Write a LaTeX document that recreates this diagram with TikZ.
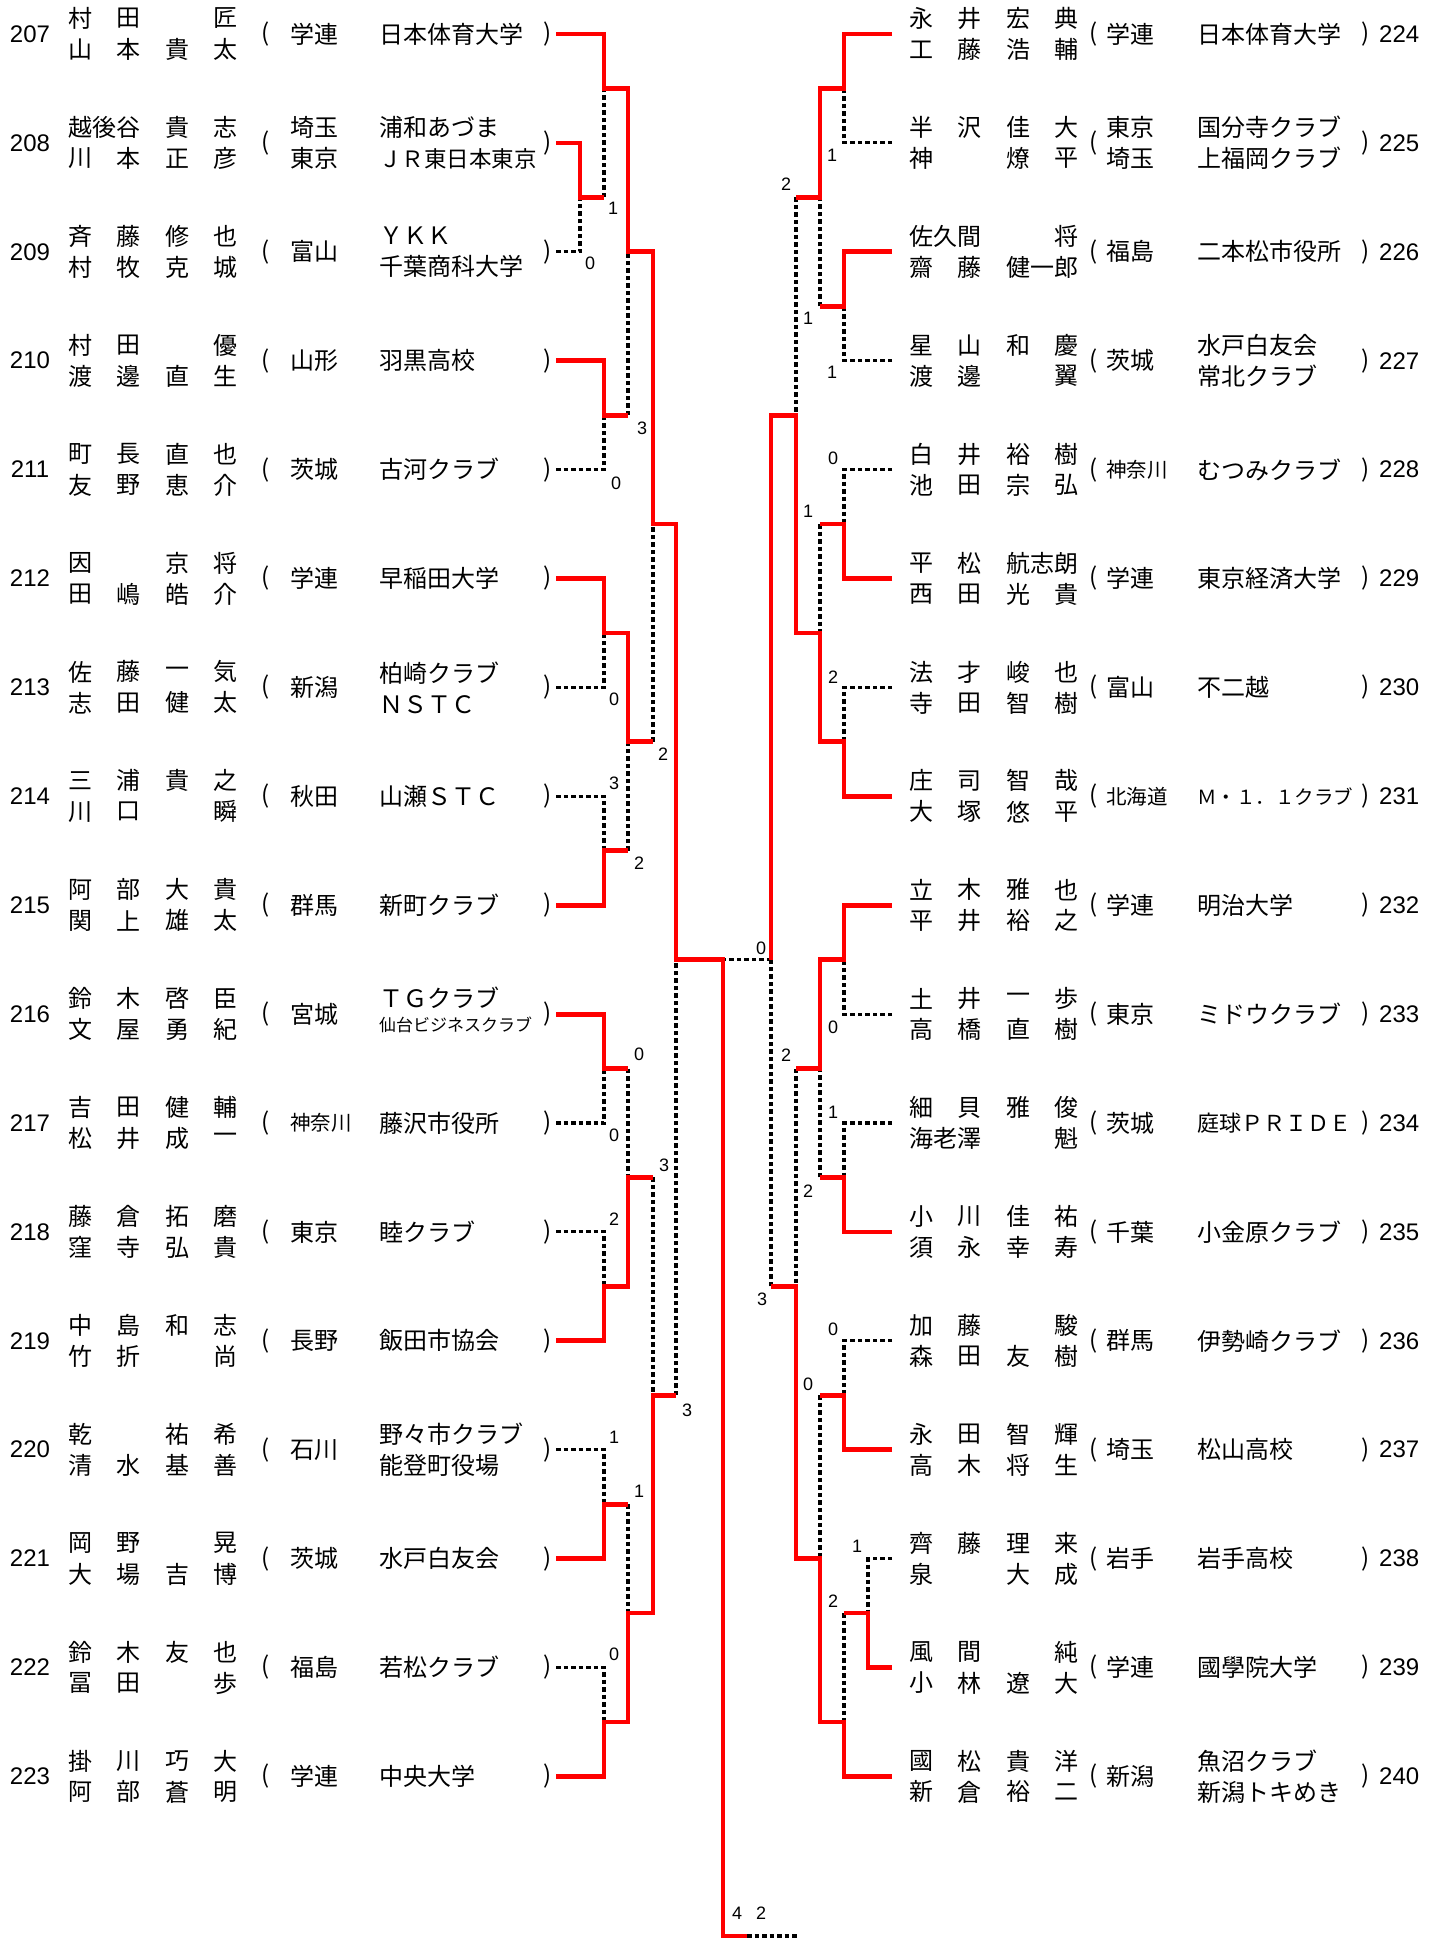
\documentclass[tikz,border=0pt]{standalone}
\usepackage{fontspec}
\setmainfont{Noto Sans CJK JP}
\newfontfamily\numfont{Liberation Sans}
\newcommand\ry[1]{34+108.9*#1}
\newcommand\entL[6]{%
  \coordinate (s#2) at (556,{\ry{#1}});
  \node[num] (no#2) at (30,{\ry{#1}}) {#2};
  \foreach \c [count=\k] in {#3} \node[nm] (a#2-\k) at ({19.5+48.5*\k},{\ry{#1}-15.5}) {\c};
  \foreach \c [count=\k] in {#4} \node[nm] (b#2-\k) at ({19.5+48.5*\k},{\ry{#1}+15.5}) {\c};
  \node[jp] (lp#2) at (266,{\ry{#1}}) {(};
  \node[jp,anchor=west,align=left] (pf#2) at (290,{\ry{#1}}) {#5};
  \node[jp,anchor=west,align=left] (cl#2) at (379,{\ry{#1}}) {#6};
  \node[jp] (rp#2) at (548,{\ry{#1}}) {)};
}
\newcommand\entR[6]{%
  \coordinate (s#2) at (892,{\ry{#1}});
  \node[num,anchor=west] (no#2) at (1379,{\ry{#1}}) {#2};
  \foreach \c [count=\k] in {#3} \node[nm] (a#2-\k) at ({860.5+48.5*\k},{\ry{#1}-15.5}) {\c};
  \foreach \c [count=\k] in {#4} \node[nm] (b#2-\k) at ({860.5+48.5*\k},{\ry{#1}+15.5}) {\c};
  \node[jp] (lp#2) at (1094,{\ry{#1}}) {(};
  \node[jp,anchor=west,align=left] (pf#2) at (1106,{\ry{#1}}) {#5};
  \node[jp,anchor=west,align=left] (cl#2) at (1197,{\ry{#1}}) {#6};
  \node[jp] (rp#2) at (1366,{\ry{#1}}) {)};
}
\begin{document}
\begin{tikzpicture}[x=1pt,y=-1pt,
    win/.style={red,line width=4.8pt},
    lose/.style={black,line width=3.1pt,dash pattern=on 4.5pt off 3pt},
    jp/.style={inner sep=0pt,font=\fontsize{24}{31}\selectfont},
    nm/.style={jp,anchor=west},
    num/.style={inner sep=0pt,font=\numfont\fontsize{24}{24}\selectfont},
    score/.style={inner sep=0pt,font=\numfont\fontsize{18}{18}\selectfont}]
    \useasboundingbox (0,0) rectangle (1443,1939);
    \def\sm{\fontsize{20.5}{24}\selectfont}
    \entL{0}{207}{村,田,,匠}{山,本,貴,太}{学連}{日本体育大学}
    \entL{1}{208}{越後谷,,貴,志}{川,本,正,彦}{埼玉\\東京}{浦和あづま\\{\fontsize{22.5}{31}\selectfont ＪＲ東日本東京}}
    \entL{2}{209}{斉,藤,修,也}{村,牧,克,城}{富山}{ＹＫＫ\\千葉商科大学}
    \entL{3}{210}{村,田,,優}{渡,邊,直,生}{山形}{羽黒高校}
    \entL{4}{211}{町,長,直,也}{友,野,恵,介}{茨城}{古河クラブ}
    \entL{5}{212}{因,,京,将}{田,嶋,皓,介}{学連}{早稲田大学}
    \entL{6}{213}{佐,藤,一,気}{志,田,健,太}{新潟}{柏崎クラブ\\ＮＳＴＣ}
    \entL{7}{214}{三,浦,貴,之}{川,口,,瞬}{秋田}{山瀬ＳＴＣ}
    \entL{8}{215}{阿,部,大,貴}{関,上,雄,太}{群馬}{新町クラブ}
    \entL{9}{216}{鈴,木,啓,臣}{文,屋,勇,紀}{宮城}{}
    \node[jp,anchor=west] (cl216a) at (379,{\ry{9}-16}) {ＴＧクラブ};
    \node[inner sep=0pt,anchor=west,font=\fontsize{17}{17}\selectfont] (cl216b) at (379,{\ry{9}+11}) {仙台ビジネスクラブ};
    \entL{10}{217}{吉,田,健,輔}{松,井,成,一}{{\sm 神奈川}}{藤沢市役所}
    \entL{11}{218}{藤,倉,拓,磨}{窪,寺,弘,貴}{東京}{睦クラブ}
    \entL{12}{219}{中,島,和,志}{竹,折,,尚}{長野}{飯田市協会}
    \entL{13}{220}{乾,,祐,希}{清,水,基,善}{石川}{野々市クラブ\\能登町役場}
    \entL{14}{221}{岡,野,,晃}{大,場,吉,博}{茨城}{水戸白友会}
    \entL{15}{222}{鈴,木,友,也}{冨,田,,歩}{福島}{若松クラブ}
    \entL{16}{223}{掛,川,巧,大}{阿,部,蒼,明}{学連}{中央大学}
    \entR{0}{224}{永,井,宏,典}{工,藤,浩,輔}{学連}{日本体育大学}
    \entR{1}{225}{半,沢,佳,大}{神,,燎,平}{東京\\埼玉}{国分寺クラブ\\上福岡クラブ}
    \entR{2}{226}{佐久間,,,将}{齋,藤,健一郎,}{福島}{二本松市役所}
    \entR{3}{227}{星,山,和,慶}{渡,邊,,翼}{茨城}{水戸白友会\\常北クラブ}
    \entR{4}{228}{白,井,裕,樹}{池,田,宗,弘}{{\sm 神奈川}}{むつみクラブ}
    \entR{5}{229}{平,松,航志朗,}{西,田,光,貴}{学連}{東京経済大学}
    \entR{6}{230}{法,才,峻,也}{寺,田,智,樹}{富山}{不二越}
    \entR{7}{231}{庄,司,智,哉}{大,塚,悠,平}{{\sm 北海道}}{{\fontsize{19.5}{24}\selectfont Ｍ・１．１クラブ}}
    \entR{8}{232}{立,木,雅,也}{平,井,裕,之}{学連}{明治大学}
    \entR{9}{233}{土,井,一,歩}{高,橋,直,樹}{東京}{ミドウクラブ}
    \entR{10}{234}{細,貝,雅,俊}{海老澤,,,魁}{茨城}{{\fontsize{22}{24}\selectfont 庭球ＰＲＩＤＥ}}
    \entR{11}{235}{小,川,佳,祐}{須,永,幸,寿}{千葉}{小金原クラブ}
    \entR{12}{236}{加,藤,,駿}{森,田,友,樹}{群馬}{伊勢崎クラブ}
    \entR{13}{237}{永,田,智,輝}{高,木,将,生}{埼玉}{松山高校}
    \entR{14}{238}{齊,藤,理,来}{泉,,大,成}{岩手}{岩手高校}
    \entR{15}{239}{風,間,,純}{小,林,遼,大}{学連}{國學院大学}
    \entR{16}{240}{國,松,貴,洋}{新,倉,裕,二}{新潟}{魚沼クラブ\\新潟トキめき}
    % losing lines
    \draw[lose] (604,{\ry{1.5}}) -- (604,{\ry{0.5}});
    \draw[lose] (s209) -| (580,{\ry{1.5}});
    \draw[lose] (628,{\ry{3.5}}) -- (628,{\ry{2}});
    \draw[lose] (s211) -| (604,{\ry{3.5}});
    \draw[lose] (653,{\ry{6.5}}) -- (653,{\ry{4.5}});
    \draw[lose] (s213) -| (604,{\ry{5.5}});
    \draw[lose] (s214) -| (604,{\ry{7.5}});
    \draw[lose] (628,{\ry{7.5}}) -- (628,{\ry{6.5}});
    \draw[lose] (628,{\ry{9.5}}) -- (628,{\ry{10.5}});
    \draw[lose] (s217) -| (604,{\ry{9.5}});
    \draw[lose] (s218) -| (604,{\ry{11.5}});
    \draw[lose] (653,{\ry{10.5}}) -- (653,{\ry{12.5}});
    \draw[lose] (s220) -| (604,{\ry{13.5}});
    \draw[lose] (628,{\ry{13.5}}) -- (628,{\ry{14.5}});
    \draw[lose] (s222) -| (604,{\ry{15.5}});
    \draw[lose] (676,{\ry{12.5}}) -- (676,{\ry{8.5}});
    \draw[lose] (796,{\ry{1.5}}) -- (796,{\ry{3.5}});
    \draw[lose] (s225) -| (844,{\ry{0.5}});
    \draw[lose] (820,{\ry{2.5}}) -- (820,{\ry{1.5}});
    \draw[lose] (s227) -| (844,{\ry{2.5}});
    \draw[lose] (s228) -| (844,{\ry{4.5}});
    \draw[lose] (820,{\ry{4.5}}) -- (820,{\ry{5.5}});
    \draw[lose] (s230) -| (844,{\ry{6.5}});
    \draw[lose] (771,{\ry{8.5}}) -- (723,{\ry{8.5}});
    \draw[lose] (796,{\ry{9.5}}) -- (796,{\ry{11.5}});
    \draw[lose] (s233) -| (844,{\ry{8.5}});
    \draw[lose] (s234) -| (844,{\ry{10.5}});
    \draw[lose] (820,{\ry{10.5}}) -- (820,{\ry{9.5}});
    \draw[lose] (s236) -| (844,{\ry{12.5}});
    \draw[lose] (820,{\ry{12.5}}) -- (820,{\ry{14}});
    \draw[lose] (s238) -| (868,{\ry{14.5}});
    \draw[lose] (844,{\ry{14.5}}) -- (844,{\ry{15.5}});
    \draw[lose] (771,{\ry{11.5}}) -- (771,{\ry{8.5}});
    \draw[lose] (747,1936) -- (797,1936);
    % winning lines
    \draw[win] (s207) -| (604,{\ry{0.5}}) -| (628,{\ry{2}}) -| (653,{\ry{4.5}}) -| (676,{\ry{8.5}}) -| (723,1936) -- (747,1936);
    \draw[win] (s208) -| (580,{\ry{1.5}}) -- (604,{\ry{1.5}});
    \draw[win] (s210) -| (604,{\ry{3.5}}) -- (628,{\ry{3.5}});
    \draw[win] (s212) -| (604,{\ry{5.5}}) -| (628,{\ry{6.5}}) -- (653,{\ry{6.5}});
    \draw[win] (s215) -| (604,{\ry{7.5}}) -- (628,{\ry{7.5}});
    \draw[win] (s216) -| (604,{\ry{9.5}}) -- (628,{\ry{9.5}});
    \draw[win] (s219) -| (604,{\ry{11.5}}) -| (628,{\ry{10.5}}) -- (653,{\ry{10.5}});
    \draw[win] (s221) -| (604,{\ry{13.5}}) -- (628,{\ry{13.5}});
    \draw[win] (s223) -| (604,{\ry{15.5}}) -| (628,{\ry{14.5}}) -| (653,{\ry{12.5}}) -- (676,{\ry{12.5}});
    \draw[win] (s224) -| (844,{\ry{0.5}}) -| (820,{\ry{1.5}}) -- (796,{\ry{1.5}});
    \draw[win] (s226) -| (844,{\ry{2.5}}) -- (820,{\ry{2.5}});
    \draw[win] (s229) -| (844,{\ry{4.5}}) -- (820,{\ry{4.5}});
    \draw[win] (s231) -| (844,{\ry{6.5}}) -| (820,{\ry{5.5}}) -| (796,{\ry{3.5}}) -| (771,{\ry{8.5}});
    \draw[win] (s232) -| (844,{\ry{8.5}}) -| (820,{\ry{9.5}}) -- (796,{\ry{9.5}});
    \draw[win] (s235) -| (844,{\ry{10.5}}) -- (820,{\ry{10.5}});
    \draw[win] (s237) -| (844,{\ry{12.5}}) -- (820,{\ry{12.5}});
    \draw[win] (s239) -| (868,{\ry{14.5}}) -- (844,{\ry{14.5}});
    \draw[win] (s240) -| (844,{\ry{15.5}}) -| (820,{\ry{14}}) -| (796,{\ry{11.5}}) -- (771,{\ry{11.5}});
    % scores
    \foreach \x/\y/\t [count=\i] in {613/208/1, 590/263/0, 642/428/3, 616/483/0, 614/699/0, 663/754/2,
        614/783/3, 639/863/2, 639/1054/0, 614/1135/0, 664/1165/3, 614/1219/2, 687/1410/3, 614/1437/1,
        639/1491/1, 614/1654/0, 832/155/1, 786/184/2, 808/318/1, 832/372/1, 833/458/0, 808/511/1,
        833/677/2, 761/948/0, 833/1027/0, 786/1055/2, 833/1112/1, 808/1191/2, 762/1299/3, 833/1329/0,
        808/1384/0, 857/1546/1, 833/1601/2, 737/1913/4, 761/1913/2}
        \node[score] (sc\i) at (\x,\y) {\t};
\end{tikzpicture}
\end{document}
